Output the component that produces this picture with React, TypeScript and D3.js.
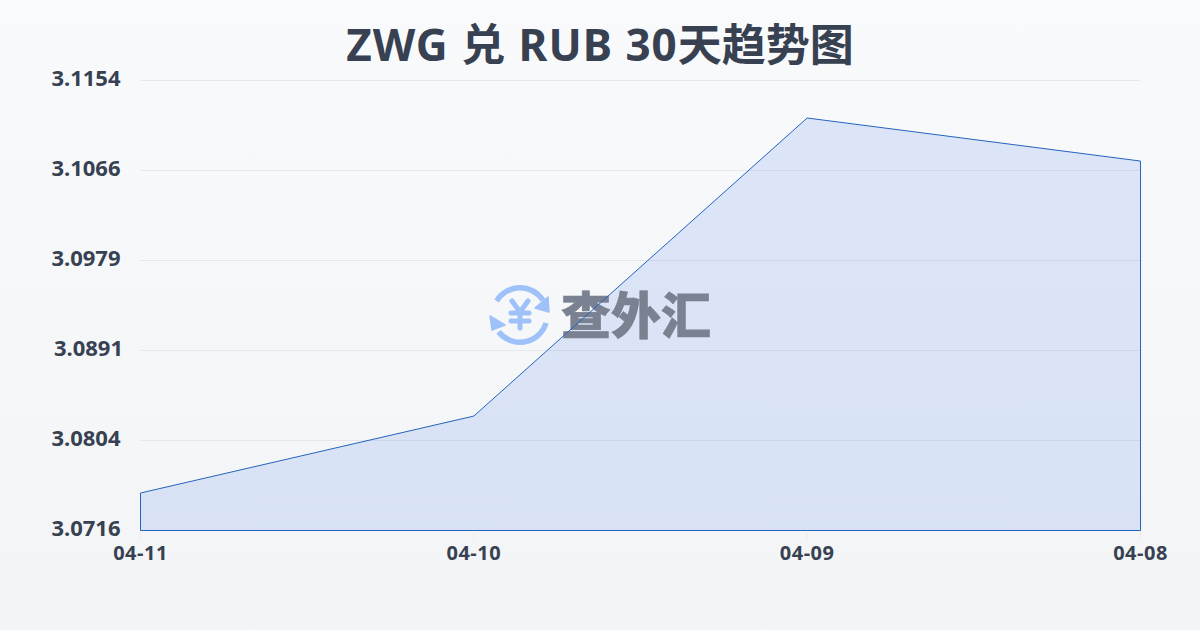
import { useEffect, useRef } from 'react'
import * as d3 from 'd3'

const dates = ['04-11', '04-10', '04-09', '04-08']
const rates = [3.07525, 3.08274, 3.11175, 3.10756]
const tickLabels = ['3.1154', '3.1066', '3.0979', '3.0891', '3.0804', '3.0716']
const rateRange = [3.0716, 3.1154]

const FONT = '"Noto Sans", "Noto Sans CJK SC", sans-serif'
const INK = '#374151'
const ICON = '#9dc1f8'

export default function App() {
  const svgRef = useRef<SVGSVGElement | null>(null)

  useEffect(() => {
    const width = 1200
    const height = 630
    const margin = { top: 80.5, right: 59.5, bottom: 99.5, left: 140.5 }

    const svg = d3.select(svgRef.current)
    svg.selectAll('*').remove()
    svg.attr('viewBox', `0 0 ${width} ${height}`)

    // ================= BACKGROUND =================
    const defs = svg.append('defs')
    const bg = defs
      .append('linearGradient')
      .attr('id', 'bg')
      .attr('x1', 0)
      .attr('y1', 0)
      .attr('x2', 0)
      .attr('y2', 1)
    bg.append('stop').attr('offset', '0%').attr('stop-color', '#f8fafc')
    bg.append('stop').attr('offset', '100%').attr('stop-color', '#f3f4f6')
    svg.append('rect').attr('width', width).attr('height', height).attr('fill', 'url(#bg)')

    // ================= SCALES =================
    const x = d3
      .scalePoint<string>()
      .domain(dates)
      .range([margin.left, width - margin.right])
    const y = d3
      .scaleLinear()
      .domain(rateRange)
      .range([height - margin.bottom, margin.top])
    const yTick = d3
      .scalePoint<string>()
      .domain(tickLabels)
      .range([margin.top, height - margin.bottom])

    // ================= GRID =================
    svg
      .append('g')
      .selectAll('line')
      .data(tickLabels)
      .join('line')
      .attr('x1', margin.left)
      .attr('x2', width - margin.right)
      .attr('y1', (d) => yTick(d) as number)
      .attr('y2', (d) => yTick(d) as number)
      .attr('stroke', '#e5e7eb')
      .attr('stroke-width', 1)

    svg
      .append('g')
      .selectAll('line')
      .data(dates)
      .join('line')
      .attr('x1', (d) => x(d) as number)
      .attr('x2', (d) => x(d) as number)
      .attr('y1', height - margin.bottom)
      .attr('y2', height - margin.bottom + 10)
      .attr('stroke', '#f1ede0')
      .attr('stroke-width', 1)

    // ================= AREA =================
    const area = d3
      .area<number>()
      .x((_, i) => x(dates[i]) as number)
      .y0(y(rateRange[0]))
      .y1((d) => y(d))
    svg
      .append('path')
      .attr('d', area(rates))
      .attr('fill', '#2563eb')
      .attr('fill-opacity', 0.13)

    // ================= WATERMARK =================
    const mark = svg.append('g')
    const arc = d3.arc()
    const icon = mark.append('g').attr('transform', 'translate(520,315)')
    icon
      .selectAll('path.ring')
      .data([
        { startAngle: -1.03, endAngle: 1.0 },
        { startAngle: 1.87, endAngle: 4.05 },
      ])
      .join('path')
      .attr('class', 'ring')
      .attr('fill', ICON)
      .attr('d', (d) =>
        arc({ innerRadius: 24.5, outerRadius: 30, cornerRadius: 2.5, ...d }) as string,
      )
    icon
      .selectAll('path.head')
      .data(['M 29 -3 L 15 -7 L 28 -18 Z', 'M -30 1 L -15 10 L -28 15 Z'])
      .join('path')
      .attr('class', 'head')
      .attr('fill', ICON)
      .attr('stroke', ICON)
      .attr('stroke-width', 1.5)
      .attr('stroke-linejoin', 'round')
      .attr('d', (d) => d)
    icon
      .append('path')
      .attr('d', 'M -8 -14 L 0 -3 L 8 -14 M -9 -2 L 9 -2 M -9 6 L 9 6 M 0 -3 L 0 13')
      .attr('fill', 'none')
      .attr('stroke', ICON)
      .attr('stroke-width', 5)
      .attr('stroke-linecap', 'round')
      .attr('stroke-linejoin', 'round')
    mark
      .append('text')
      .attr('x', 636)
      .attr('y', 334)
      .attr('text-anchor', 'middle')
      .attr('font-family', '"Noto Sans CJK SC", sans-serif')
      .attr('font-weight', 900)
      .attr('font-size', 50)
      .attr('fill', '#7a8291')
      .attr('stroke', '#7a8291')
      .attr('stroke-width', 0.6)
      .text('查外汇')

    // outline sits on top of the watermark
    svg
      .append('path')
      .attr('d', area(rates))
      .attr('fill', 'none')
      .attr('stroke', '#2563be')
      .attr('stroke-width', 1)

    // ================= LABELS =================
    svg
      .append('g')
      .selectAll('text')
      .data(tickLabels)
      .join('text')
      .attr('x', (d) => (d === '3.0891' ? 88.5 : 86))
      .attr('y', (d) => (yTick(d) as number) + 5.5)
      .attr('text-anchor', 'middle')
      .attr('font-family', FONT)
      .attr('font-weight', 700)
      .attr('font-size', 22)
      .attr('fill', INK)
      .text((d) => d)

    svg
      .append('g')
      .selectAll('text')
      .data(dates)
      .join('text')
      .attr('x', (d) => x(d) as number)
      .attr('y', 560)
      .attr('text-anchor', 'middle')
      .attr('font-family', FONT)
      .attr('font-weight', 700)
      .attr('font-size', 20)
      .attr('letter-spacing', 0.5)
      .attr('fill', INK)
      .text((d) => d)

    const title = svg
      .append('text')
      .attr('x', 600)
      .attr('y', 61)
      .attr('text-anchor', 'middle')
      .attr('font-family', FONT)
      .attr('font-weight', 700)
      .attr('font-size', 44)
      .attr('fill', INK)
    title.append('tspan').attr('letter-spacing', 1).text('ZWG 兑 RUB 30')
    title.append('tspan').text('天趋势图')
  }, [])

  return (
    <svg
      ref={svgRef}
      width={1200}
      height={630}
      style={{ position: 'fixed', left: 0, top: 0, display: 'block' }}
    />
  )
}
